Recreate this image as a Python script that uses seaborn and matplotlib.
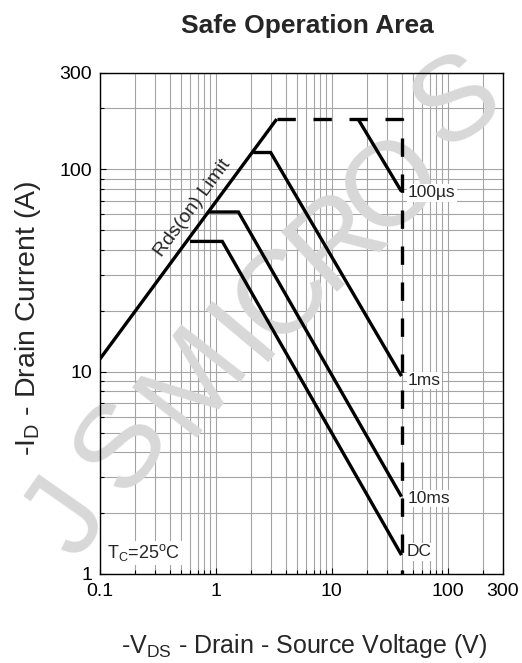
import matplotlib
matplotlib.use("Agg")
import matplotlib.pyplot as plt
import matplotlib.ticker as mticker
import seaborn as sns

# ---------------- data ----------------
rds_vds = [0.1, 3.36]
rds_id = [11.5, 177]
limit_vds = [3.36, 40, 40]
limit_id = [177, 177, 1]
us100_vds = [16.9, 40]
us100_id = [177, 77.6]
ms1_vds = [2.11, 2.98, 40]
ms1_id = [121, 121, 9.5]
ms10_vds = [0.875, 1.57, 40]
ms10_id = [61.5, 61.5, 2.41]
dc_vds = [0.6, 1.14, 40]
dc_id = [44, 44, 1.24]

curve_labels = ["100\u00b5s", "1ms", "10ms", "DC"]
label_vds = [45.5, 45.5, 45.5, 44.5]
label_id = [76.4, 9.05, 2.36, 1.29]

x_ticks = [0.1, 1, 10, 100, 300]
x_ticklabels = ["0.1", "1", "10", "100", "300"]
y_ticks = [1, 10, 100, 300]
y_ticklabels = ["1", "10", "100", "300"]

watermark_chars = ["J", "S", "M", "I", "C", "R", "O", "S"]
watermark_px = [68, 124, 194, 245, 284, 338, 394, 458]
watermark_py = [520, 447, 380, 330, 296, 240, 188, 104]
watermark_rot = [55, 54, 52, 50, 47, 43, 39, 33]

# ---------------- style ----------------
sns.set_theme(style="white")
plt.rcParams["font.family"] = ["Liberation Sans", "DejaVu Sans"]
plt.rcParams["mathtext.fontset"] = "custom"
plt.rcParams["mathtext.rm"] = "Liberation Sans"
plt.rcParams["mathtext.it"] = "Liberation Sans:italic"
plt.rcParams["mathtext.bf"] = "Liberation Sans:bold"

W, H = 522, 663
fig = plt.figure(figsize=(W / 100, H / 100), dpi=100)
fig.patch.set_facecolor("white")
ax = fig.add_axes([99.7 / W, 1 - 574 / H, (503 - 99.7) / W, (574 - 72.7) / H])
ax.set_facecolor("white")

lw = 2.4
solid_sets = [(rds_vds, rds_id), (us100_vds, us100_id), (ms1_vds, ms1_id),
              (ms10_vds, ms10_id), (dc_vds, dc_id)]
for xs, ys in solid_sets:
    sns.lineplot(x=xs, y=ys, ax=ax, color="black", linewidth=lw, sort=False,
                 estimator=None, zorder=3, solid_capstyle="butt",
                 solid_joinstyle="miter")
sns.lineplot(x=limit_vds, y=limit_id, ax=ax, color="black", linewidth=lw,
             sort=False, estimator=None, zorder=3, linestyle=(0, (5.5, 5.3)),
             dash_capstyle="butt")

ax.set_xscale("log")
ax.set_yscale("log")
ax.set_xlim(0.1, 300)
ax.set_ylim(1, 300)

ax.xaxis.set_major_locator(mticker.FixedLocator(x_ticks))
ax.xaxis.set_major_formatter(mticker.FixedFormatter(x_ticklabels))
ax.yaxis.set_major_locator(mticker.FixedLocator(y_ticks))
ax.yaxis.set_major_formatter(mticker.FixedFormatter(y_ticklabels))
ax.xaxis.set_minor_locator(mticker.LogLocator(base=10, subs=range(2, 10), numticks=20))
ax.yaxis.set_minor_locator(mticker.LogLocator(base=10, subs=range(2, 10), numticks=20))
ax.xaxis.set_minor_formatter(mticker.NullFormatter())
ax.yaxis.set_minor_formatter(mticker.NullFormatter())

ax.set_axisbelow(True)
ax.grid(True, which="both", color="#a4a4a4", linewidth=0.8)
ax.tick_params(which="both", direction="in", colors="black", top=False, right=False,
               bottom=True, left=True)
ax.tick_params(which="major", length=4, width=0.8, labelsize=14)
ax.tick_params(axis="x", which="major", pad=6.5)
ax.tick_params(axis="y", which="major", pad=5.5)
ax.tick_params(which="minor", length=3, width=0.8)
for s in ax.spines.values():
    s.set_color("black")
    s.set_linewidth(1.0)
ax.set_xlabel("")
ax.set_ylabel("")

# curve labels
for t, xv, yv in zip(curve_labels, label_vds, label_id):
    ax.text(xv, yv, t, fontsize=12.5, ha="left", va="center", zorder=5,
            bbox=dict(facecolor="white", edgecolor="none", pad=1.0))

ax.text(0.64, 64.0, "Rds(on) Limit", fontsize=14, rotation=53.6,
        rotation_mode="anchor", ha="center", va="center", zorder=5)
ax.text(0.1156, 1.27, r"T$_\mathrm{C}$=25$^\mathrm{o}$C", fontsize=13,
        ha="left", va="center", zorder=5,
        bbox=dict(facecolor="white", edgecolor="none", pad=1.0))

# watermark
for ch, px, py, rot in zip(watermark_chars, watermark_px, watermark_py, watermark_rot):
    ax.text(px / W, 1 - py / H, ch, transform=fig.transFigure, fontsize=86,
            color="#d8d8d8", rotation=rot, rotation_mode="anchor",
            ha="center", va="center", zorder=1)

# titles / axis labels
fig.text(307.5 / W, 1 - 33 / H, "Safe Operation Area", fontsize=19,
         fontweight="bold", ha="center", va="baseline")
fig.text(304 / W, 1 - 653 / H, r"-V$_\mathrm{DS}$ - Drain - Source Voltage (V)",
         fontsize=18, ha="center", va="baseline")
fig.text(28 / W, 1 - 318 / H, r"-I$_\mathrm{D}$ - Drain Current (A)",
         fontsize=20.5, rotation=90, ha="center", va="center")

fig.savefig("out.png", dpi=100, facecolor="white")
